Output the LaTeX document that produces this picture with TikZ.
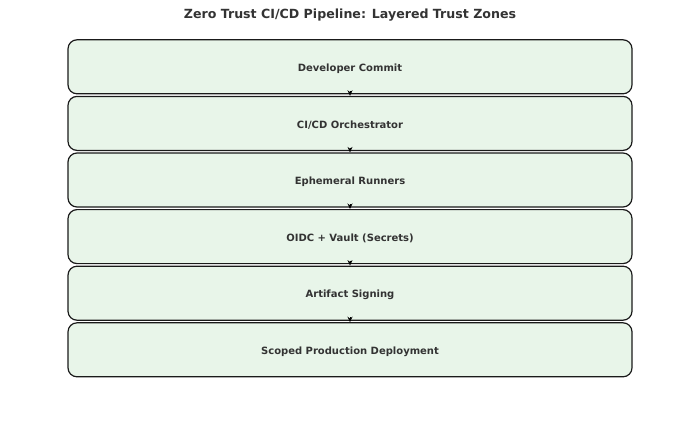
\documentclass[tikz,border=0pt]{standalone}
\usepackage{fontspec}
\setmainfont{DejaVu Sans}
\usepackage{xcolor}
\usetikzlibrary{arrows.meta, positioning}
\definecolor{zonefill}{HTML}{E8F5E9}
\definecolor{zoneline}{HTML}{1A1A1A}
\definecolor{titlegray}{HTML}{333333}

\begin{document}
\begin{tikzpicture}[x=1pt, y=-1pt,
    zone/.style={draw=zoneline, line width=1.2pt, fill=zonefill, rounded corners=9pt,
        minimum width=564pt, minimum height=54pt, inner sep=0pt,
        text height=9.5pt, text depth=0pt,
        font=\fontsize{10}{12}\selectfont\bfseries, text=titlegray},
    link/.style={-{Stealth[length=5.5pt, width=5pt]}, line width=1pt, black}]
    \useasboundingbox (0,0) rectangle (700,421);

    \node[font=\fontsize{12.6}{15}\selectfont\bfseries, text=titlegray] (title) at (350,15.5)
        {Zero Trust CI/CD Pipeline: Layered Trust Zones};

    % Trust zones, top to bottom
    \node[zone] (commit) at (350,66.8) {Developer Commit};
    \node[zone, below=1.4pt of commit] (orch) {CI/CD Orchestrator};
    \node[zone, below=1.4pt of orch] (runners) {Ephemeral Runners};
    \node[zone, below=1.4pt of runners] (vault) {OIDC + Vault (Secrets)};
    \node[zone, below=1.4pt of vault] (signing) {Artifact Signing};
    \node[zone, below=1.4pt of signing] (deploy) {Scoped Production Deployment};

    \foreach \a/\b in {commit/orch, orch/runners, runners/vault, vault/signing, signing/deploy} {
        \draw[link] ([yshift=3.5pt]\a.south) -- (\b.north);
    }
\end{tikzpicture}
\end{document}
